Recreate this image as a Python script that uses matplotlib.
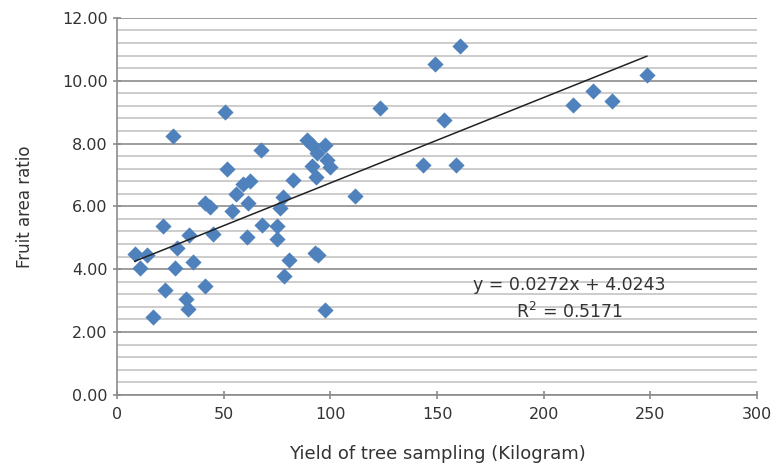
import matplotlib.pyplot as plt
import numpy as np
from matplotlib.ticker import MultipleLocator

# yield (kg) vs fruit area ratio
yield_kg = [8.4, 10.8, 13.9, 17.0, 21.6, 22.4, 26.5, 27.2, 28.4, 32.3,
            33.2, 33.7, 35.7, 41.5, 41.3, 43.6, 45.2, 50.6, 51.8, 53.8,
            56.0, 59.2, 60.8, 62.4, 61.6, 67.5, 67.8, 74.8, 74.9, 76.4,
            78.0, 78.3, 80.8, 82.7, 88.9, 93.6, 91.5, 93.4, 97.5, 98.3,
            99.9, 92.8, 94.4, 97.5, 111.8, 123.3, 143.3, 149.1, 153.3, 158.9,
            160.8, 213.5, 223.3, 231.9, 248.3, 91.5]
area_ratio = [4.49, 4.03, 4.44, 2.47, 5.36, 3.33, 8.23, 4.05, 4.68, 3.06,
              2.74, 5.09, 4.22, 3.46, 6.10, 5.99, 5.13, 9.00, 7.18, 5.84,
              6.38, 6.70, 5.03, 6.82, 6.12, 7.80, 5.41, 5.36, 4.96, 5.95,
              6.30, 3.77, 4.30, 6.85, 8.10, 7.70, 7.27, 6.92, 7.94, 7.46,
              7.24, 4.51, 4.45, 2.71, 6.32, 9.12, 7.32, 10.54, 8.74, 7.32,
              11.09, 9.24, 9.66, 9.36, 10.19, 7.95]

slope = 0.0272
intercept = 4.0243
trend_x = [min(yield_kg), max(yield_kg)]

fig = plt.figure(figsize=(7.79, 4.69), dpi=100)
ax = fig.add_axes([0.150, 0.158, 0.822, 0.804])

ax.scatter(yield_kg, area_ratio, marker='D', s=68, color='#4F81BD', zorder=3, linewidths=0)
tx = np.array(trend_x)
ax.plot(tx, slope * tx + intercept, color='#222222', lw=1.1, zorder=4)

ax.set_xlim(0, 300)
ax.set_ylim(0, 12)
ax.xaxis.set_major_locator(MultipleLocator(50))
ax.yaxis.set_major_locator(MultipleLocator(2))
ax.yaxis.set_minor_locator(MultipleLocator(0.4))
ax.yaxis.set_major_formatter(lambda v, p: '%.2f' % v)

ax.grid(which='major', axis='y', color='#8c8c8c', lw=1.2, zorder=0)
ax.grid(which='minor', axis='y', color='#c4c4c4', lw=1.2, zorder=0)
ax.set_axisbelow(True)

for s in ['top', 'right']:
    ax.spines[s].set_visible(False)
for s in ['left', 'bottom']:
    ax.spines[s].set_color('#8c8c8c')
    ax.spines[s].set_linewidth(1.2)
ax.tick_params(which='major', axis='both', color='#8c8c8c', width=1.2, length=6,
               direction='inout', labelsize=11.5, labelcolor='#333333')
ax.tick_params(which='minor', axis='y', length=0)
ax.tick_params(axis='x', pad=6)

ax.set_xlabel('Yield of tree sampling (Kilogram)', fontsize=13, color='#333333', labelpad=16)
ax.set_ylabel('Fruit area ratio', fontsize=12, color='#333333', labelpad=20)

ax.text(212, 3.5, 'y = 0.0272x + 4.0243', ha='center', va='center', fontsize=12.5, color='#333333')
ax.text(212, 2.64, 'R$^2$ = 0.5171', ha='center', va='center', fontsize=12.5, color='#333333')

fig.savefig('out.png', dpi=100)
